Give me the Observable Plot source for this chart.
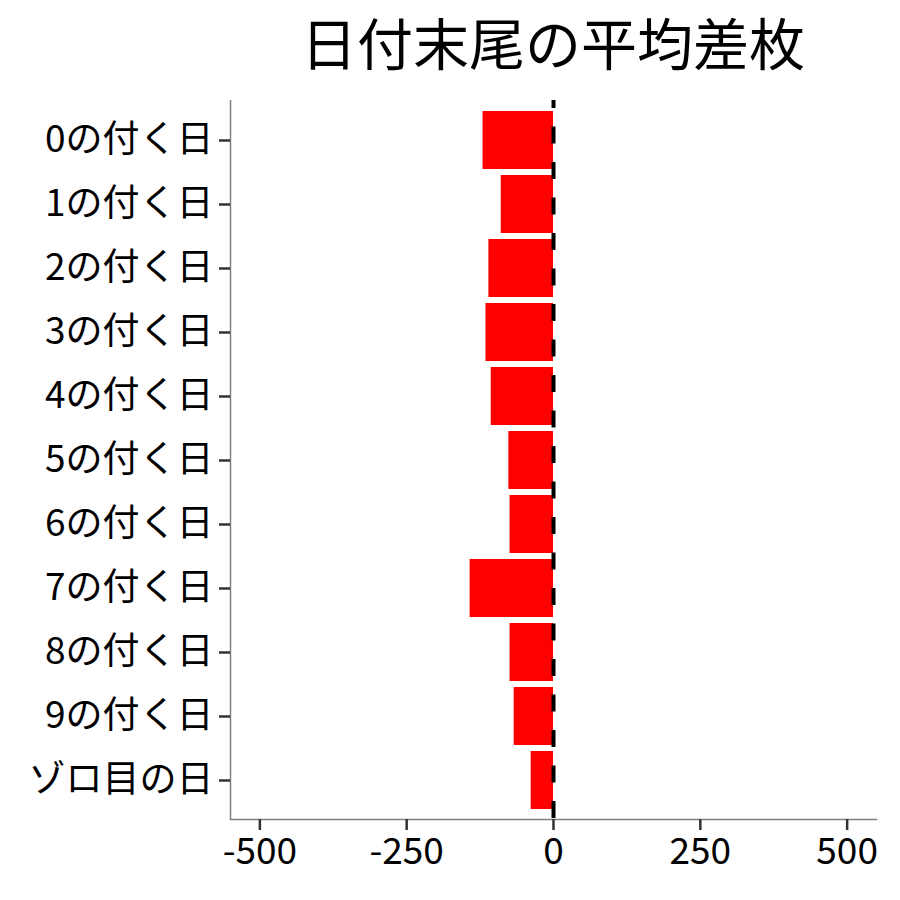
<!DOCTYPE html>
<html>
<head>
<meta charset="utf-8">
<script src="https://cdn.jsdelivr.net/npm/d3@7"></script>
<script src="https://cdn.jsdelivr.net/npm/@observablehq/plot@0.6"></script>
<style>
  html, body { margin: 0; padding: 0; background: #fff; }
  #title { box-sizing: border-box; height: 90px; padding-top: 13px; margin-left: 230px; width: 646px;
    text-align: center; font-family: "Noto Sans CJK JP", sans-serif; font-size: 56px; line-height: 1; color: #000; }
</style>
</head>
<body>
<div id="title">日付末尾の平均差枚</div>
<div id="chart"></div>
<script>
const categories = ["0の付く日","1の付く日","2の付く日","3の付く日","4の付く日","5の付く日","6の付く日","7の付く日","8の付く日","9の付く日","ゾロ目の日"];
const values = [-120, -89, -110, -115, -106, -76, -74, -142, -74, -67, -38];
const xTicks = [-500, -250, 0, 250, 500];

const data = categories.map((c, i) => ({cat: c, value: values[i]}));

const chart = Plot.plot({
  width: 900,
  height: 810,
  marginTop: 10,
  marginBottom: 81,
  marginLeft: 230,
  marginRight: 24,
  style: {fontFamily: "'Noto Sans CJK JP', sans-serif", fontSize: "37px", color: "#000", background: "#fff"},
  x: {domain: [-550, 550], ticks: xTicks, label: null},
  y: {domain: categories, paddingInner: 0.1, paddingOuter: 0.15, label: null},
  marks: [
    Plot.barX(data, {x: "value", y: "cat", fill: "#ff0000"}),
    Plot.ruleX([0], {stroke: "#000", strokeWidth: 4, strokeDasharray: "17,18.5", strokeDashoffset: 9}),
    Plot.ruleX([-550], {stroke: "#7f7f7f", strokeWidth: 1.5}),
    Plot.frame({anchor: "bottom", stroke: "#7f7f7f", strokeWidth: 1.5}),
    Plot.axisX({ticks: xTicks, tickFormat: d => String(d), tickSize: 11, tickPadding: 7, stroke: "#333", strokeWidth: 2.5, fill: "#000", label: null}),
    Plot.axisY({tickSize: 11, tickPadding: 6, stroke: "#333", strokeWidth: 2.5, fill: "#000", label: null})
  ]
});
document.getElementById("chart").appendChild(chart);
</script>
</body>
</html>
